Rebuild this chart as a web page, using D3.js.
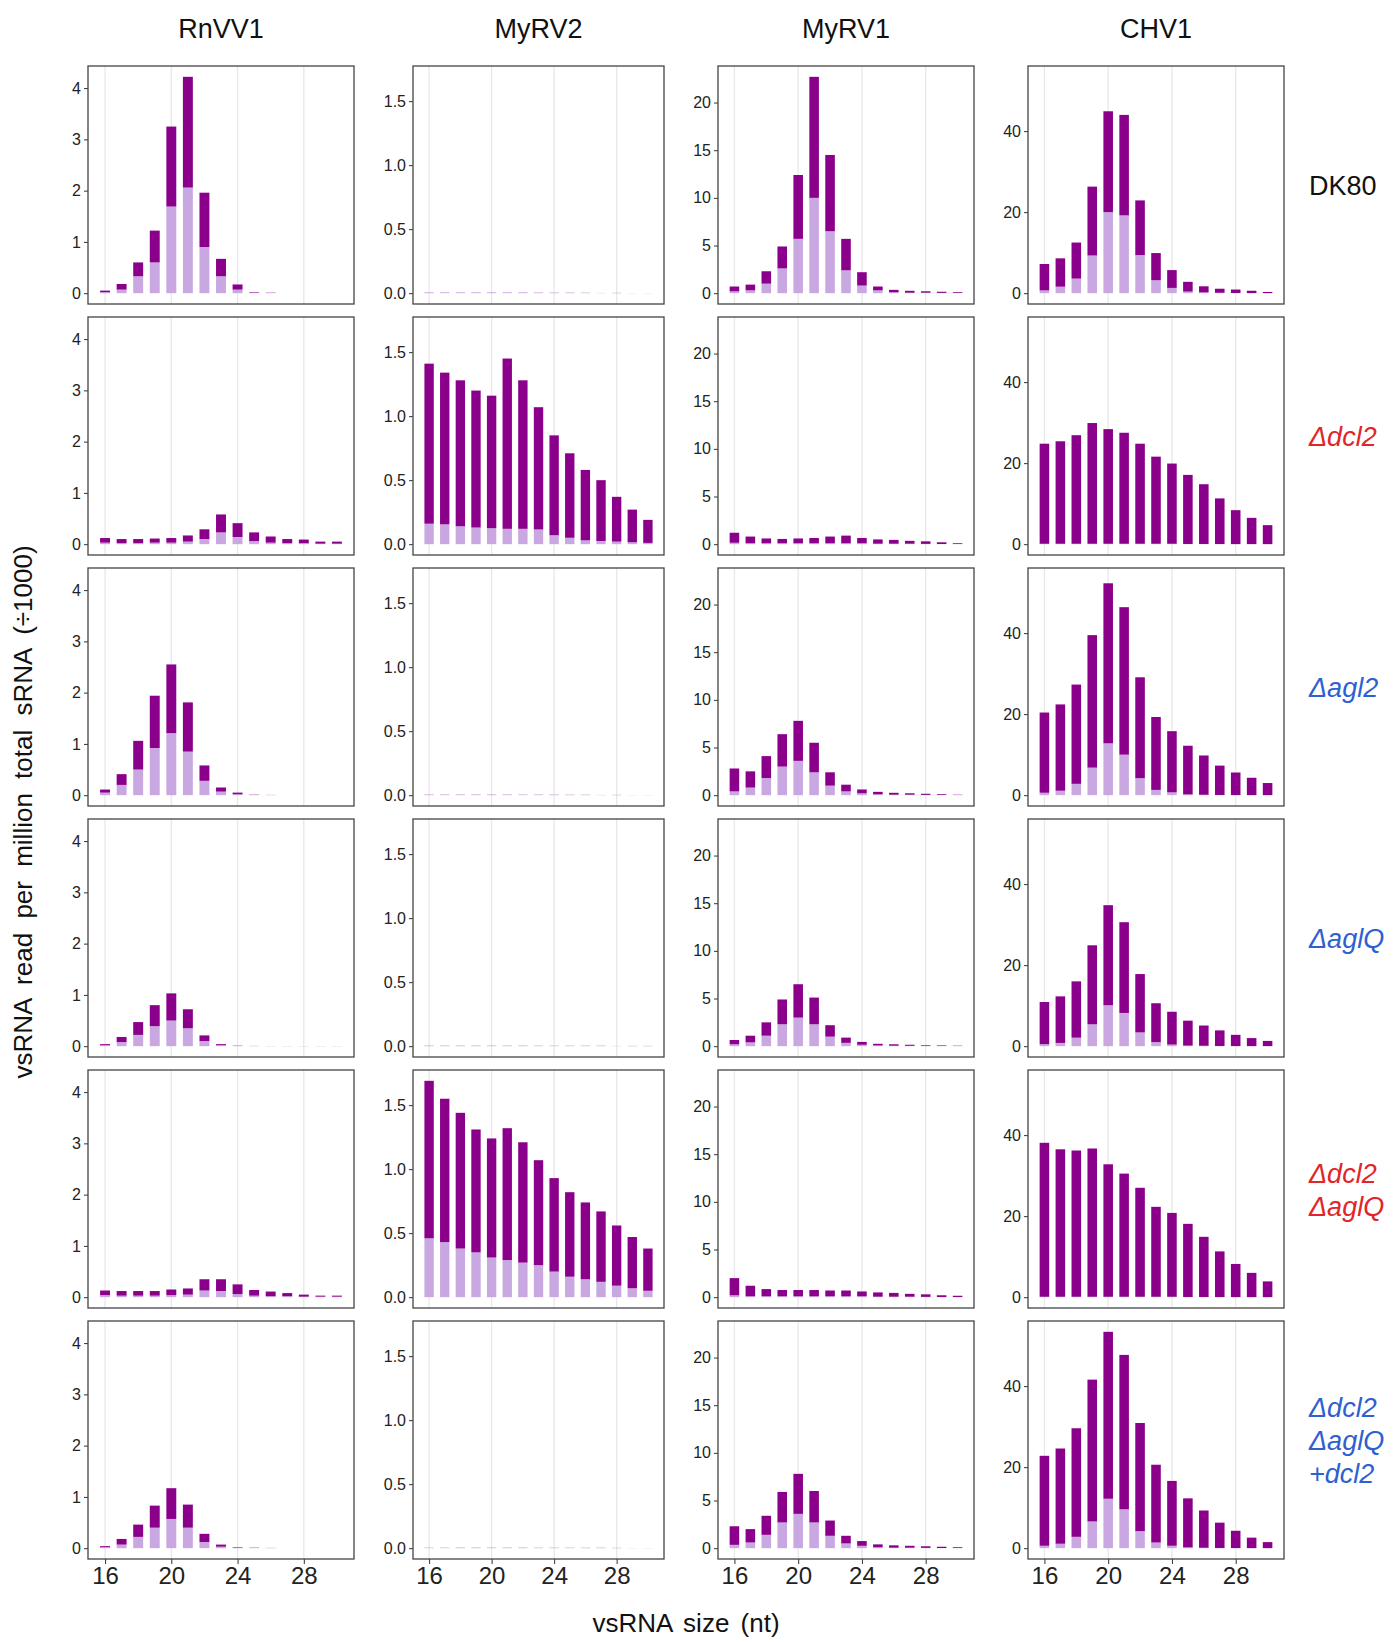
<!DOCTYPE html>
<meta charset="utf-8">
<html>
<head>
<style>
  body { margin: 0; background: #fff; }
  text { font-family: "Liberation Sans", Arial, sans-serif; }
  .tick-lab { font-family: "Liberation Sans Narrow", "Liberation Sans", Arial, sans-serif; fill: #222; }
</style>
</head>
<script src="https://d3js.org/d3.v7.min.js"></script>
<body>
<div id="vis"></div>
<script>
  // vsRNA sizes (nt) on the x axis
  var sizes = [16, 17, 18, 19, 20, 21, 22, 23, 24, 25, 26, 27, 28, 29, 30];
  var viruses = ["RnVV1", "MyRV2", "MyRV1", "CHV1"];
  var strains = [
    {lines: ["DK80"], color: "#111", italic: false},
    {lines: ["\u0394dcl2"], color: "#e0262a", italic: true},
    {lines: ["\u0394agl2"], color: "#2f5fd0", italic: true},
    {lines: ["\u0394aglQ"], color: "#2f5fd0", italic: true},
    {lines: ["\u0394dcl2", "\u0394aglQ"], color: "#e0262a", italic: true},
    {lines: ["\u0394dcl2", "\u0394aglQ", "+dcl2"], color: "#2f5fd0", italic: true}
  ];
  var xTicks = [16, 20, 24, 28];
  var yTicks = [[0, 1, 2, 3, 4], [0, 0.5, 1.0, 1.5], [0, 5, 10, 15, 20], [0, 20, 40]];

  // bar tops (total) per strain row, and the light lower part
  var rnvv1Total = [
    [0.05,0.18,0.60,1.22,3.25,4.22,1.96,0.67,0.17,0.02,0.01,0,0,0,0],
    [0.12,0.10,0.10,0.11,0.12,0.17,0.29,0.58,0.41,0.23,0.15,0.10,0.09,0.05,0.05],
    [0.11,0.41,1.06,1.94,2.55,1.81,0.58,0.15,0.05,0.01,0.005,0,0,0,0],
    [0.04,0.18,0.47,0.80,1.03,0.72,0.21,0.04,0.01,0.005,0.003,0.003,0.003,0.003,0.003],
    [0.13,0.12,0.12,0.12,0.15,0.17,0.35,0.35,0.25,0.14,0.11,0.08,0.05,0.03,0.03],
    [0.04,0.18,0.46,0.83,1.17,0.85,0.28,0.07,0.02,0.01,0.005,0,0,0,0]
  ];
  var rnvv1Light = [
    [0.02,0.07,0.33,0.60,1.69,2.06,0.90,0.33,0.07,0.01,0.005,0,0,0,0],
    [0.03,0.02,0.02,0.03,0.03,0.05,0.10,0.23,0.14,0.06,0.03,0.02,0.02,0.01,0.01],
    [0.05,0.20,0.50,0.92,1.21,0.85,0.28,0.07,0.02,0.005,0.003,0,0,0,0],
    [0.02,0.08,0.22,0.39,0.50,0.35,0.10,0.02,0.005,0.003,0.002,0.002,0.002,0.002,0.002],
    [0.04,0.03,0.03,0.03,0.04,0.05,0.13,0.12,0.06,0.03,0.02,0.02,0.01,0.01,0.01],
    [0.02,0.07,0.22,0.40,0.57,0.40,0.12,0.03,0.01,0.005,0.003,0,0,0,0]
  ];
  var myrv2Total = [
    [0.006,0.006,0.006,0.006,0.006,0.006,0.006,0.005,0.004,0.004,0.003,0.002,0.002,0.001,0.001],
    [1.41,1.34,1.28,1.20,1.16,1.45,1.28,1.07,0.85,0.71,0.58,0.50,0.37,0.27,0.19],
    [0.005,0.005,0.005,0.005,0.005,0.005,0.004,0.004,0.004,0.003,0.003,0.002,0.002,0.001,0.001],
    [0.004,0.004,0.004,0.004,0.004,0.004,0.004,0.003,0.003,0.003,0.003,0.003,0.002,0.002,0.002],
    [1.69,1.55,1.44,1.31,1.24,1.32,1.21,1.07,0.93,0.82,0.74,0.67,0.56,0.47,0.38],
    [0.003,0.003,0.004,0.004,0.004,0.004,0.004,0.003,0.003,0.003,0.003,0.003,0.002,0.001,0.001]
  ];
  var myrv2Light = [
    [0.005,0.005,0.005,0.005,0.005,0.005,0.005,0.004,0.003,0.003,0.002,0.002,0.001,0.001,0.001],
    [0.16,0.155,0.14,0.13,0.125,0.12,0.12,0.115,0.07,0.05,0.03,0.025,0.02,0.015,0.01],
    [0.004,0.004,0.004,0.004,0.004,0.004,0.003,0.003,0.003,0.002,0.002,0.002,0.001,0.001,0.001],
    [0.003,0.003,0.003,0.003,0.003,0.003,0.003,0.002,0.002,0.002,0.002,0.002,0.002,0.001,0.001],
    [0.46,0.43,0.38,0.35,0.31,0.29,0.27,0.25,0.20,0.16,0.14,0.12,0.09,0.07,0.05],
    [0.002,0.002,0.003,0.003,0.003,0.003,0.003,0.002,0.002,0.002,0.002,0.002,0.001,0.001,0.001]
  ];
  var myrv1Total = [
    [0.7,0.9,2.3,4.9,12.4,22.7,14.5,5.7,2.2,0.7,0.35,0.25,0.2,0.15,0.1],
    [1.2,0.8,0.6,0.55,0.6,0.65,0.8,0.9,0.65,0.5,0.45,0.35,0.3,0.2,0.1],
    [2.8,2.5,4.1,6.4,7.8,5.5,2.4,1.1,0.6,0.35,0.25,0.2,0.15,0.1,0.05],
    [0.65,1.1,2.5,4.9,6.5,5.1,2.2,0.9,0.45,0.25,0.2,0.15,0.1,0.08,0.05],
    [2.0,1.2,0.85,0.75,0.75,0.75,0.7,0.7,0.6,0.5,0.45,0.35,0.3,0.2,0.15],
    [2.3,2.0,3.4,5.9,7.8,6.0,2.9,1.3,0.75,0.4,0.3,0.25,0.2,0.15,0.1]
  ];
  var myrv1Light = [
    [0.2,0.3,1.0,2.6,5.7,10.0,6.5,2.4,0.8,0.3,0.1,0.05,0.05,0.03,0.02],
    [0.15,0.1,0.1,0.1,0.1,0.1,0.1,0.1,0.1,0.05,0.05,0.05,0.03,0.02,0.02],
    [0.4,0.8,1.8,3.0,3.6,2.4,1.0,0.4,0.2,0.1,0.05,0.05,0.03,0.02,0.02],
    [0.2,0.4,1.1,2.3,3.0,2.3,1.0,0.35,0.15,0.08,0.05,0.04,0.03,0.02,0.02],
    [0.2,0.1,0.1,0.1,0.1,0.1,0.1,0.1,0.1,0.05,0.05,0.05,0.03,0.02,0.02],
    [0.35,0.6,1.4,2.7,3.6,2.7,1.3,0.5,0.25,0.1,0.05,0.05,0.03,0.02,0.02]
  ];
  var chv1Total = [
    [7.2,8.6,12.5,26.3,44.9,44.0,22.9,9.9,5.7,2.8,1.7,1.1,0.9,0.6,0.3],
    [24.8,25.4,26.9,29.9,28.4,27.5,24.8,21.6,19.9,17.1,14.8,11.3,8.4,6.5,4.7],
    [20.4,22.4,27.3,39.5,52.3,46.4,29.1,19.3,15.8,12.2,9.8,7.3,5.6,4.3,3.0],
    [10.9,12.3,16.0,24.9,34.8,30.6,17.8,10.6,8.5,6.3,5.1,3.9,2.8,2.0,1.3],
    [38.1,36.5,36.2,36.7,32.8,30.5,27.0,22.3,20.8,18.1,14.9,11.3,8.2,6.0,3.9],
    [22.8,24.6,29.6,41.6,53.4,47.7,30.9,20.6,16.6,12.3,9.3,6.3,4.3,2.6,1.5]
  ];
  var chv1Light = [
    [0.7,1.6,3.6,9.3,20.0,19.2,9.4,3.2,1.3,0.4,0.2,0.1,0.05,0.03,0.02],
    [0.1,0.1,0.1,0.1,0.1,0.1,0.1,0.1,0.1,0.05,0.05,0.03,0.02,0.02,0.01],
    [0.6,1.1,2.8,6.8,12.8,10.0,4.2,1.3,0.7,0.2,0.1,0.05,0.03,0.02,0.02],
    [0.5,0.8,2.1,5.4,10.1,8.2,3.4,1.0,0.4,0.15,0.1,0.05,0.03,0.02,0.02],
    [0.1,0.1,0.1,0.1,0.1,0.1,0.1,0.1,0.1,0.05,0.05,0.03,0.02,0.02,0.01],
    [0.6,1.1,2.8,6.6,12.2,9.6,4.2,1.4,0.6,0.2,0.1,0.05,0.03,0.02,0.02]
  ];

  var totals = [rnvv1Total, myrv2Total, myrv1Total, chv1Total];
  var lights = [rnvv1Light, myrv2Light, myrv1Light, chv1Light];

  var darkCol = "#8b008b", lightCol = "#c9a8e2";

  // panel layout
  var colX = [88, 413, 718, 1028],
      colW = [266, 251, 256, 256],
      rowY = [66, 317, 568, 819, 1070, 1321],
      rowH = 238,
      barW = 0.6;

  var svg = d3.select("#vis").append("svg")
    .attr("width", 1396)
    .attr("height", 1642)
    .style("background", "#fff");

  viruses.forEach(function(v, c) {
    var x = d3.scaleLinear().domain([14.97, 31.03]).range([colX[c], colX[c] + colW[c]]);
    var ymax = d3.max(totals[c], function(r) { return d3.max(r); });

    svg.append("text")
      .attr("x", colX[c] + colW[c] / 2)
      .attr("y", 38)
      .attr("text-anchor", "middle")
      .style("font-size", "27px")
      .style("fill", "#111")
      .text(v);

    strains.forEach(function(s, r) {
      var y = d3.scaleLinear()
        .domain([-ymax * 0.05, ymax * 1.05])
        .range([rowY[r] + rowH, rowY[r]]);
      var g = svg.append("g");

      // vertical grid
      g.selectAll(".grid").data(xTicks).enter().append("line")
        .attr("x1", function(d) { return x(d); })
        .attr("x2", function(d) { return x(d); })
        .attr("y1", rowY[r]).attr("y2", rowY[r] + rowH)
        .attr("stroke", "#e8e8e8").attr("stroke-width", 1.3);

      var rows = sizes.map(function(sz, i) {
        return {size: sz, light: lights[c][r][i], total: totals[c][r][i]};
      });
      var bw = x(barW) - x(0);

      g.selectAll(".lt").data(rows).enter().append("rect")
        .attr("x", function(d) { return x(d.size) - bw / 2; })
        .attr("width", bw)
        .attr("y", function(d) { return y(d.light); })
        .attr("height", function(d) { return Math.max(0, y(0) - y(d.light)); })
        .attr("fill", lightCol);

      g.selectAll(".dk").data(rows).enter().append("rect")
        .attr("x", function(d) { return x(d.size) - bw / 2; })
        .attr("width", bw)
        .attr("y", function(d) { return y(d.total); })
        .attr("height", function(d) { return Math.max(0, y(d.light) - y(d.total)); })
        .attr("fill", darkCol);

      // y axis
      var yAxis = g.append("g")
        .attr("transform", "translate(" + colX[c] + ",0)")
        .call(d3.axisLeft(y).tickValues(yTicks[c]).tickSize(4).tickPadding(3)
          .tickFormat(c === 1 ? d3.format(".1f") : d3.format("d")));
      yAxis.select(".domain").remove();
      yAxis.selectAll("line").attr("stroke", "#333");
      yAxis.selectAll("text").attr("class", "tick-lab").style("font-size", "16px");

      if (r === strains.length - 1) {
        var xAxis = g.append("g")
          .attr("transform", "translate(0," + (rowY[r] + rowH) + ")")
          .call(d3.axisBottom(x).tickValues(xTicks).tickSize(5).tickPadding(3));
        xAxis.select(".domain").remove();
        xAxis.selectAll("line").attr("stroke", "#333");
        xAxis.selectAll("text").attr("class", "tick-lab").style("font-size", "24px");
      }

      // panel border
      g.append("rect")
        .attr("x", colX[c]).attr("y", rowY[r])
        .attr("width", colW[c]).attr("height", rowH)
        .attr("fill", "none").attr("stroke", "#444").attr("stroke-width", 1.3);
    });
  });

  // strain labels on the right
  strains.forEach(function(s, r) {
    var cy = rowY[r] + rowH / 2, lh = 33;
    var t = svg.append("text")
      .attr("x", 1309)
      .style("font-size", "27px")
      .style("font-style", s.italic ? "italic" : "normal")
      .style("fill", s.color);
    s.lines.forEach(function(l, i) {
      t.append("tspan")
        .attr("x", 1309)
        .attr("y", cy + (i - (s.lines.length - 1) / 2) * lh + 10)
        .text(l);
    });
  });

  // axis titles
  svg.append("text")
    .attr("x", 686).attr("y", 1632)
    .attr("text-anchor", "middle")
    .style("font-size", "26px").style("word-spacing", "4px").style("fill", "#111")
    .text("vsRNA size (nt)");

  svg.append("text")
    .attr("transform", "translate(32,812) rotate(-90)")
    .attr("text-anchor", "middle")
    .style("font-size", "26px").style("word-spacing", "7px").style("fill", "#111")
    .text("vsRNA read per million total sRNA (\u00f71000)");
</script>
</body>
</html>
